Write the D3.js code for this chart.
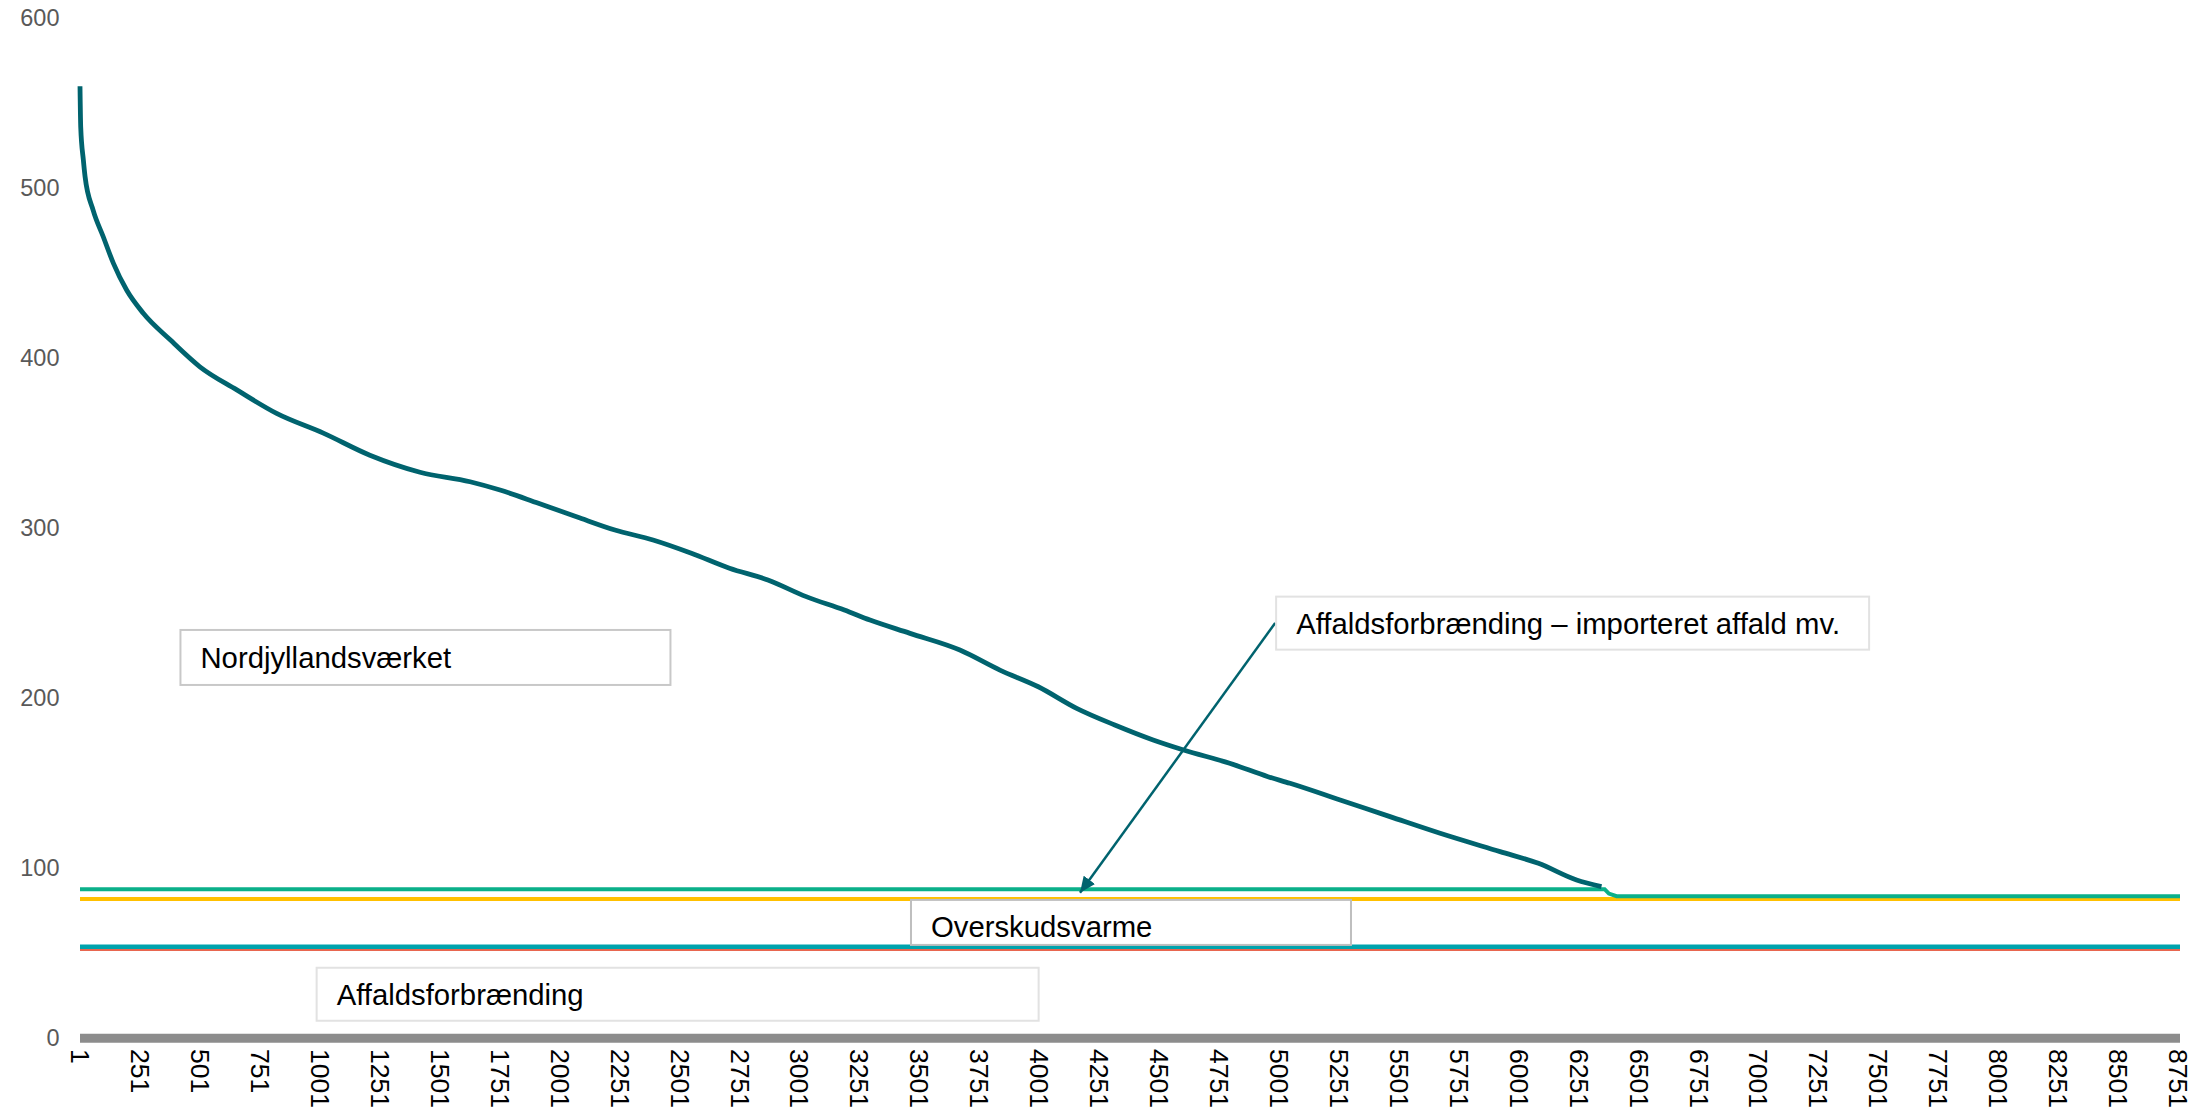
<!DOCTYPE html>
<html>
<head>
<meta charset="utf-8">
<script src="https://cdn.jsdelivr.net/npm/d3@7"></script>
<style>
  body { margin: 0; background: #ffffff; }
  svg { display: block; }
  text { font-family: "Liberation Sans", Arial, Helvetica, sans-serif; }
</style>
</head>
<body>
<svg id="chart" width="2211" height="1108"></svg>
<script>
// ---------------- DATA ----------------
// Load duration curve (hour of year, sorted)
const nordHours = [1, 4, 15, 22, 56, 98, 140, 196, 265, 376, 501, 655, 821, 1016, 1210, 1419, 1628, 1753, 1913, 2072, 2232, 2391, 2551, 2710, 2870, 3030, 3189, 3296, 3463, 3671, 3838, 3998, 4158, 4317, 4477, 4604, 4796, 4956, 5048, 5257, 5465, 5674, 5924, 6084, 6243, 6347];
const nordValues = [560, 536, 516.6, 507, 487, 471.5, 456, 440, 426.5, 411, 395, 381.4, 367.6, 356, 343, 333, 327.4, 322.5, 314.7, 306.8, 299, 293.1, 285.3, 276.5, 269.6, 259.8, 251.9, 246, 238.2, 228.4, 216.6, 206.8, 194.1, 184.3, 175.5, 169.6, 161.8, 153.9, 150, 140.2, 130.4, 120.6, 109.8, 102.9, 93.1, 89.2];

const importHours = [1, 6360, 6378, 6410, 8760];
const importValues = [87.7, 87.7, 85.1, 83.6, 83.6];

const overskudHours = [1, 8760];
const overskudValues = [82.0, 82.0];

const affaldHours = [1, 8760];
const affaldValues = [53.9, 53.9];

const affaldBaseHours = [1, 8760];
const affaldBaseValues = [52.5, 52.5];

const xTickValues = d3.range(1, 8752, 250);
const yTickValues = [0, 100, 200, 300, 400, 500, 600];

const labelNord = "Nordjyllandsværket";
const labelImport = "Affaldsforbrænding – importeret affald mv.";
const labelOverskud = "Overskudsvarme";
const labelAffald = "Affaldsforbrænding";

// ---------------- LAYOUT ----------------
const svg = d3.select("#chart");
const x = d3.scaleLinear().domain([1, 8760]).range([80, 2180]);
const y = d3.scaleLinear().domain([0, 600]).range([1038.3, 18.3]);

const zip = (hs, vs) => hs.map((h, i) => [h, vs[i]]);
const line = d3.line().x(d => x(d[0])).y(d => y(d[1]));

// axis bar (thick grey baseline)
svg.append("line")
  .attr("x1", x(1)).attr("x2", x(8760))
  .attr("y1", y(0)).attr("y2", y(0))
  .attr("stroke", "#8c8c8c").attr("stroke-width", 9);

// y axis labels
const yAxis = d3.axisLeft(y).tickValues(yTickValues).tickSize(0).tickPadding(0).tickFormat(d3.format("d"));
const gy = svg.append("g").attr("transform", "translate(59.5,0)").call(yAxis);
gy.select(".domain").remove();
gy.selectAll("text").attr("fill", "#595959").style("font-size", "23.5px")
  .style("font-family", '"Liberation Sans", Arial, sans-serif');

// x axis labels (rotated)
const xAxis = d3.axisBottom(x).tickValues(xTickValues).tickSize(0).tickFormat(d3.format("d"));
const gx = svg.append("g").attr("transform", "translate(0,1049)").call(xAxis);
gx.select(".domain").remove();
gx.selectAll("text")
  .attr("fill", "#000000")
  .style("font-size", "26.5px")
  .style("font-family", '"Liberation Sans", Arial, sans-serif')
  .attr("text-anchor", "start")
  .attr("y", 0).attr("x", 0)
  .attr("dy", "0.35em")
  .attr("transform", "rotate(90)");

// series lines
const series = [
  { data: zip(affaldBaseHours, affaldBaseValues), color: "#e8664f", w: 4 },
  { data: zip(affaldHours, affaldValues), color: "#00a3ad", w: 4.5 },
  { data: zip(overskudHours, overskudValues), color: "#ffc000", w: 4 },
  { data: zip(importHours, importValues), color: "#0bb08a", w: 4 },
];
series.forEach(s => {
  svg.append("path").attr("d", line(s.data)).attr("fill", "none")
    .attr("stroke", s.color).attr("stroke-width", s.w);
});

const curveLine = d3.line().x(d => x(d[0])).y(d => y(d[1])).curve(d3.curveMonotoneX);
svg.append("path").attr("d", curveLine(zip(nordHours, nordValues)))
  .attr("fill", "none").attr("stroke", "#00636e").attr("stroke-width", 4.8)
  .attr("stroke-linejoin", "round");

// ---------------- ANNOTATIONS ----------------
const defs = svg.append("defs");
defs.append("marker").attr("id", "arrow")
  .attr("viewBox", "0 0 16 14").attr("refX", 16).attr("refY", 7)
  .attr("markerWidth", 16).attr("markerHeight", 14)
  .attr("markerUnits", "userSpaceOnUse").attr("orient", "auto")
  .append("path").attr("d", "M0,0 L16,7 L0,14 Z").attr("fill", "#00636e");

// arrow from label to import line
svg.append("line")
  .attr("x1", x(4986)).attr("y1", y(244.3))
  .attr("x2", x(4172)).attr("y2", y(85.6))
  .attr("stroke", "#00636e").attr("stroke-width", 2.5)
  .attr("marker-end", "url(#arrow)");

const boxes = [
  { text: labelNord, h: 420, v: 240.2, w: 490, ht: 55, border: "#c8c8c8" },
  { text: labelImport, h: 4990, v: 259.8, w: 593, ht: 53, border: "#e2e2e2" },
  { text: labelOverskud, h: 3467, v: 81.4, w: 440, ht: 45, border: "#bfbfbf", base: 37 },
  { text: labelAffald, h: 988, v: 41.5, w: 722, ht: 53, border: "#e2e2e2" },
];
boxes.forEach(b => {
  const bx = x(b.h), by = y(b.v);
  svg.append("rect").attr("x", bx).attr("y", by).attr("width", b.w).attr("height", b.ht)
    .attr("fill", "#ffffff").attr("stroke", b.border).attr("stroke-width", 2);
  svg.append("text").attr("x", bx + 20).attr("y", by + (b.base || (b.ht / 2 + 10.5)))
    .attr("fill", "#000000").style("font-size", "29.3px").text(b.text);
});
</script>
</body>
</html>
